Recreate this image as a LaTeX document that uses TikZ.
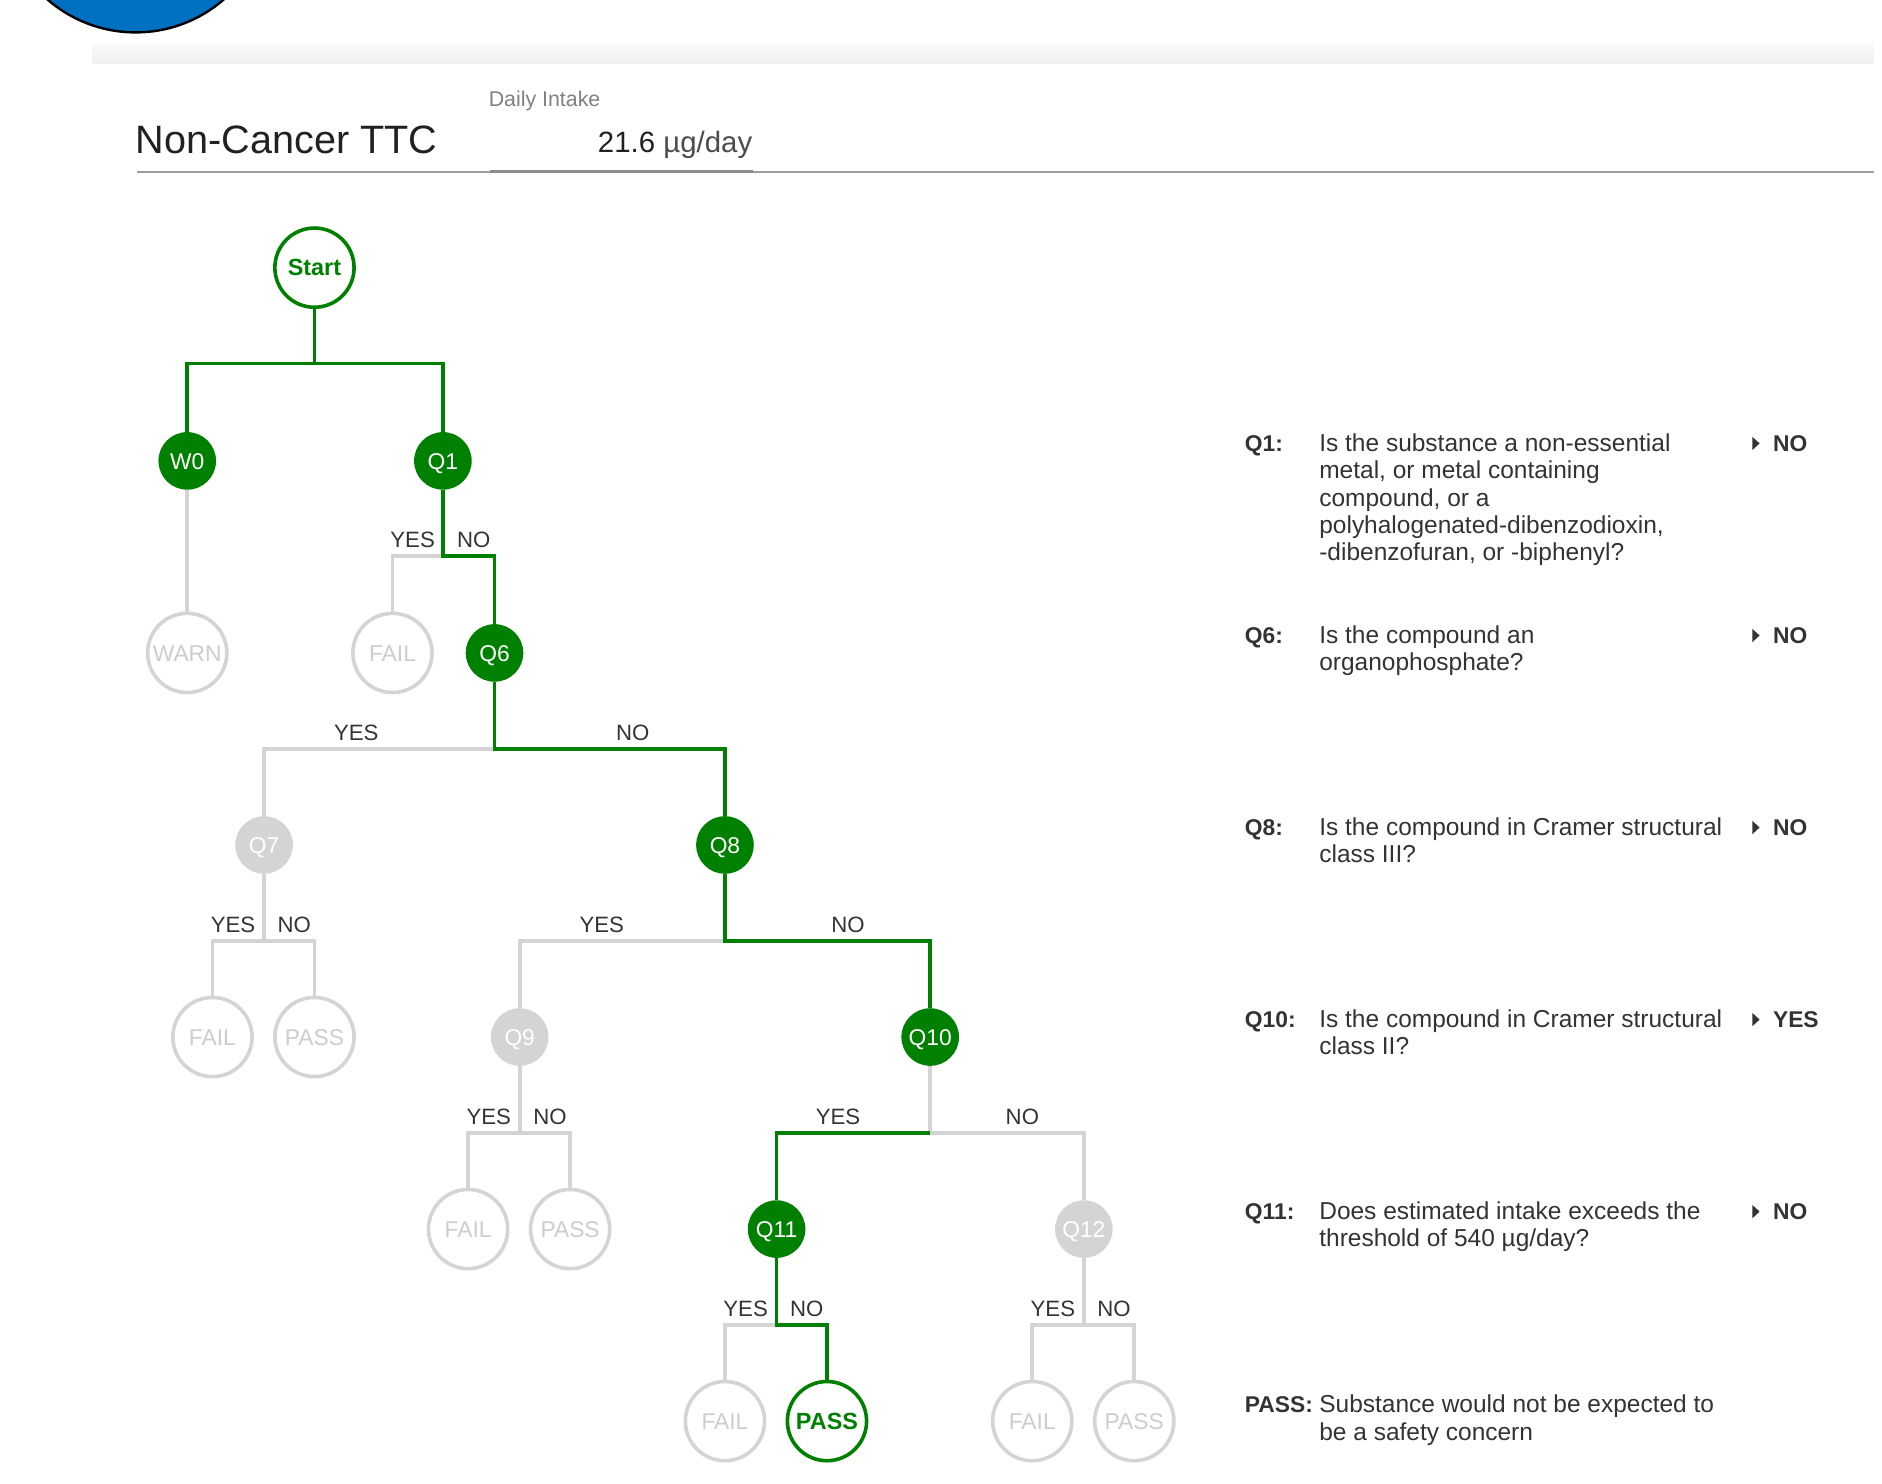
\documentclass[tikz,border=0pt]{standalone}
\usepackage{fontspec}
\setmainfont{Liberation Sans}
\definecolor{pathgreen}{RGB}{0,128,0}
\definecolor{offgray}{RGB}{212,212,212}
\definecolor{leafgray}{RGB}{204,204,210}
\definecolor{inkgray}{RGB}{51,51,51}
\definecolor{titleink}{RGB}{33,33,33}
\definecolor{badgeblue}{RGB}{0,112,192}

\begin{document}
\begin{tikzpicture}[
      x=1pt, y=-1pt,
      qon/.style={circle, fill=pathgreen, text=white, minimum size=48pt, inner sep=0pt, text height=13.6pt, text depth=0pt, font=\fontsize{19}{22}\selectfont},
      qoff/.style={qon, fill=offgray},
      endon/.style={circle, draw=pathgreen, line width=3pt, fill=white, text=pathgreen, minimum size=66pt, inner sep=0pt, text height=13.8pt, text depth=0pt, font=\fontsize{19.5}{22}\selectfont\bfseries},
      endoff/.style={endon, draw=offgray, text=leafgray, font=\fontsize{19}{22}\selectfont},
      onpath/.style={draw=pathgreen, line width=3pt},
      offpath/.style={draw=offgray, line width=3pt},
      yn/.style={font=\fontsize{18.5}{22}\selectfont, text=inkgray, anchor=base, inner sep=0pt, yshift=7pt},
      key/.style={anchor=base west, inner sep=0pt, font=\fontsize{19}{22.7}\selectfont\bfseries, text=inkgray},
      desc/.style={anchor=north west, inner sep=0pt, align=left, font=\fontsize{20.4}{22.7}\selectfont, text=inkgray},
      pointer/.style={fill=inkgray}
    ]

    \useasboundingbox (0,0) rectangle (1568,1236);

    % page header
    \fill[badgeblue, draw=black, line width=2pt] (113,-85) circle (112);
    \shade[top color=gray!4, bottom color=gray!12] (77,36) rectangle (1561,53);
    \draw[gray!75, line width=2pt] (114,143.5) -- (1561,143.5);
    \draw[gray!90, line width=3pt] (408,143) -- (627,143);
    \node[anchor=base west, inner sep=0pt, font=\fontsize{33}{38}\selectfont, text=titleink] (heading) at (113,128) {Non-Cancer TTC};
    \node[anchor=base west, inner sep=0pt, font=\fontsize{17.8}{20}\selectfont, text=gray] (intake) at (407,89) {Daily Intake};
    \node[anchor=base west, inner sep=0pt, font=\fontsize{24.5}{28}\selectfont, text=titleink] (dose) at (498,127) {21.6 \textcolor{black!70}{µg/day}};

    % tree
    \node[endon] (start) at (262,223) {Start};
    \node[qon] (w0) at (156,384) {W0};
    \node[qon] (q1) at (369,384) {Q1};
    \node[endoff] (warn) at (156,544) {WARN};
    \node[endoff] (fail1) at (327,544) {FAIL};
    \node[qon] (q6) at (412,544) {Q6};
    \node[qoff] (q7) at (220,704) {Q7};
    \node[qon] (q8) at (604,704) {Q8};
    \node[endoff] (fail7) at (177,864) {FAIL};
    \node[endoff] (pass7) at (262,864) {PASS};
    \node[qoff] (q9) at (433,864) {Q9};
    \node[qon] (q10) at (775,864) {Q10};
    \node[endoff] (fail9) at (390,1024) {FAIL};
    \node[endoff] (pass9) at (475,1024) {PASS};
    \node[qon] (q11) at (647,1024) {Q11};
    \node[qoff] (q12) at (903,1024) {Q12};
    \node[endoff] (fail11) at (604,1184) {FAIL};
    \node[endon] (pass11) at (689,1184) {PASS};
    \node[endoff] (fail12) at (860,1184) {FAIL};
    \node[endoff] (pass12) at (945,1184) {PASS};

    \coordinate (j0) at (262,303);
    \coordinate (j1) at (369,463);
    \coordinate (j6) at (412,624);
    \coordinate (j7) at (220,784);
    \coordinate (j8) at (604,784);
    \coordinate (j9) at (433,944);
    \coordinate (j10) at (775,944);
    \coordinate (j11) at (647,1104);
    \coordinate (j12) at (903,1104);

    % branches not taken
    \draw[offpath] (w0) -- (warn);
    \draw[offpath] (j1) -| node[yn, pos=0.3] {YES} (fail1);
    \draw[offpath] (j6) -| node[yn, pos=0.3] {YES} (q7);
    \draw[offpath] (q7) -- (j7) -| node[yn, pos=0.3] {YES} (fail7);
    \draw[offpath] (j7) -| node[yn, pos=0.3] {NO} (pass7);
    \draw[offpath] (j8) -| node[yn, pos=0.3] {YES} (q9);
    \draw[offpath] (q9) -- (j9) -| node[yn, pos=0.3] {YES} (fail9);
    \draw[offpath] (j9) -| node[yn, pos=0.3] {NO} (pass9);
    \draw[offpath] (q10) -- (j10) -| node[yn, pos=0.3] {NO} (q12);
    \draw[offpath] (j11) -| node[yn, pos=0.3] {YES} (fail11);
    \draw[offpath] (q12) -- (j12) -| node[yn, pos=0.3] {YES} (fail12);
    \draw[offpath] (j12) -| node[yn, pos=0.3] {NO} (pass12);

    % path taken
    \draw[onpath] (start) -- (j0);
    \draw[onpath] (j0) -| (w0);
    \draw[onpath] (j0) -| (q1);
    \draw[onpath] (q1) -- (j1) -| node[yn, pos=0.3] {NO} (q6);
    \draw[onpath] (q6) -- (j6) -| node[yn, pos=0.3] {NO} (q8);
    \draw[onpath] (q8) -- (j8) -| node[yn, pos=0.3] {NO} (q10);
    \draw[onpath] (j10) -| node[yn, pos=0.3] {YES} (q11);
    \draw[onpath] (q11) -- (j11) -| node[yn, pos=0.3] {NO} (pass11);

    % answers
    \node[key] (k1) at (1037,376) {Q1:};
    \node[desc] (d1) at (1099,360.1) {\strut Is the substance a non-essential\\metal, or metal containing\\compound, or a\\polyhalogenated-dibenzodioxin,\\-dibenzofuran, or -biphenyl?};
    \node[key] (a1) at (1477,376) {NO};
    \fill[pointer] ([xshift=-17pt,yshift=5.5pt]a1.west) -- ++(6,5.5) -- ++(-6,5.5) -- cycle;

    \node[key] (k6) at (1037,536) {Q6:};
    \node[desc] (d6) at (1099,520.1) {\strut Is the compound an\\organophosphate?};
    \node[key] (a6) at (1477,536) {NO};
    \fill[pointer] ([xshift=-17pt,yshift=5.5pt]a6.west) -- ++(6,5.5) -- ++(-6,5.5) -- cycle;

    \node[key] (k8) at (1037,696) {Q8:};
    \node[desc] (d8) at (1099,680.1) {\strut Is the compound in Cramer structural\\class III?};
    \node[key] (a8) at (1477,696) {NO};
    \fill[pointer] ([xshift=-17pt,yshift=5.5pt]a8.west) -- ++(6,5.5) -- ++(-6,5.5) -- cycle;

    \node[key] (k10) at (1037,856) {Q10:};
    \node[desc] (d10) at (1099,840.1) {\strut Is the compound in Cramer structural\\class II?};
    \node[key] (a10) at (1477,856) {YES};
    \fill[pointer] ([xshift=-17pt,yshift=5.5pt]a10.west) -- ++(6,5.5) -- ++(-6,5.5) -- cycle;

    \node[key] (k11) at (1037,1016) {Q11:};
    \node[desc] (d11) at (1099,1000.1) {\strut Does estimated intake exceeds the\\threshold of 540 µg/day?};
    \node[key] (a11) at (1477,1016) {NO};
    \fill[pointer] ([xshift=-17pt,yshift=5.5pt]a11.west) -- ++(6,5.5) -- ++(-6,5.5) -- cycle;

    \node[key] (kpass) at (1037,1177) {PASS:};
    \node[desc] (dpass) at (1099,1161.1) {\strut Substance would not be expected to\\be a safety concern};

  \end{tikzpicture}
\end{document}
